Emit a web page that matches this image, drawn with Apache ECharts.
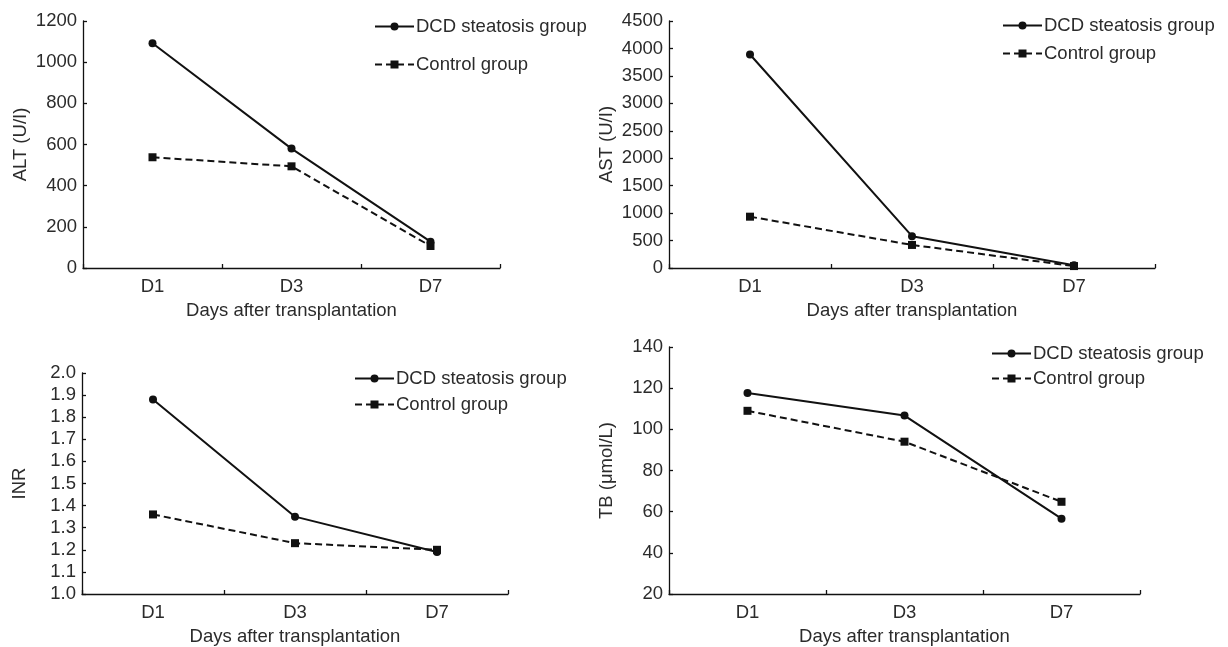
<!DOCTYPE html>
<html>
<head>
<meta charset="utf-8">
<script src="https://cdn.jsdelivr.net/npm/echarts@6/dist/echarts.min.js"></script>
<style>
html,body{margin:0;padding:0;background:#fff;}
#c{width:1228px;height:647px;}
</style>
</head>
<body>
<div id="c"></div>
<script>
// ---- data ----
var categories = ['D1', 'D3', 'D7'];
var seriesNames = ['DCD steatosis group', 'Control group'];
var xTitle = 'Days after transplantation';

var altDCD = [1092, 580, 128];
var altCtrl = [538, 494, 107];
var astDCD = [3890, 580, 50];
var astCtrl = [935, 420, 35];
var inrDCD = [1.88, 1.35, 1.19];
var inrCtrl = [1.36, 1.23, 1.20];
var tbDCD = [117.6, 106.7, 56.6];
var tbCtrl = [109, 94, 64.8];

var yNames = ['ALT (U/I)', 'AST (U/I)', 'INR', 'TB (\u03bcmol/L)'];
// [min, max, interval]
var altRange = [0, 1200, 200];
var astRange = [0, 4500, 500];
var inrRange = [1.0, 2.0, 0.1];
var tbRange = [20, 140, 20];

// ---- layout ----
var FONT = 'Liberation Sans, Arial, Helvetica, sans-serif';
var FS = 18.5;
var TXT = '#2b2b2b';
var INK = '#111';

var grids = [
  {left: 83, top: 21, width: 417, height: 247},
  {left: 669, top: 21, width: 486, height: 247},
  {left: 82, top: 373, width: 426, height: 224},
  {left: 669, top: 347, width: 471, height: 250}
];
var ranges = [altRange, astRange, inrRange, tbRange];
var decimals = [0, 0, 1, 0];
var dataSets = [[altDCD, altCtrl], [astDCD, astCtrl], [inrDCD, inrCtrl], [tbDCD, tbCtrl]];
var legendPos = [
  {left: 374, top: 17, itemGap: 19},
  {left: 1002, top: 16, itemGap: 9},
  {left: 354, top: 369, itemGap: 7},
  {left: 991, top: 344, itemGap: 6}
];

var xAxes = [], yAxes = [], series = [], legends = [];
for (var i = 0; i < 4; i++) {
  xAxes.push({
    type: 'category', gridIndex: i, data: categories, boundaryGap: true,
    name: xTitle, nameLocation: 'middle', nameGap: 33,
    nameTextStyle: {fontFamily: FONT, fontSize: FS, color: TXT},
    axisLine: {lineStyle: {color: INK, width: 1.3}},
    axisTick: {show: true, inside: true, length: 4, lineStyle: {color: INK, width: 1.3}},
    axisLabel: {fontFamily: FONT, fontSize: FS, color: TXT, margin: 9},
    splitLine: {show: false}
  });
  (function (d) {
    yAxes.push({
      type: 'value', gridIndex: i, min: ranges[i][0], max: ranges[i][1], interval: ranges[i][2],
      name: yNames[i], nameLocation: 'middle', nameGap: 53, nameRotate: 90,
      nameTextStyle: {fontFamily: FONT, fontSize: FS, color: TXT},
      axisLine: {show: true, lineStyle: {color: INK, width: 1.3}},
      axisTick: {show: true, inside: true, length: 4, lineStyle: {color: INK, width: 1.3}},
      axisLabel: {fontFamily: FONT, fontSize: FS, color: TXT, margin: 6,
        formatter: function (v) { return v.toFixed(d); }},
      splitLine: {show: false}
    });
  })(decimals[i]);
  series.push({
    name: seriesNames[0], type: 'line', xAxisIndex: i, yAxisIndex: i,
    data: dataSets[i][0], symbol: 'circle', symbolSize: 8,
    lineStyle: {color: INK, width: 2, type: 'solid'},
    itemStyle: {color: INK}, animation: false, z: 3
  });
  series.push({
    name: seriesNames[1], type: 'line', xAxisIndex: i, yAxisIndex: i,
    data: dataSets[i][1], symbol: 'rect', symbolSize: 8,
    lineStyle: {color: INK, width: 2, type: [7, 4]},
    itemStyle: {color: INK}, animation: false, z: 2
  });
  legends.push({
    orient: 'vertical', left: legendPos[i].left, top: legendPos[i].top,
    itemGap: legendPos[i].itemGap, itemWidth: 39, itemHeight: 10,
    padding: 0, selectedMode: false,
    data: seriesNames,
    textStyle: {fontFamily: FONT, fontSize: FS, color: TXT, padding: [0, 0, 0, -3]}
  });
}

var chart = echarts.init(document.getElementById('c'), null, {renderer: 'canvas'});
chart.setOption({
  backgroundColor: '#fff',
  animation: false,
  grid: grids,
  xAxis: xAxes,
  yAxis: yAxes,
  legend: legends,
  series: series
});
</script>
</body>
</html>
